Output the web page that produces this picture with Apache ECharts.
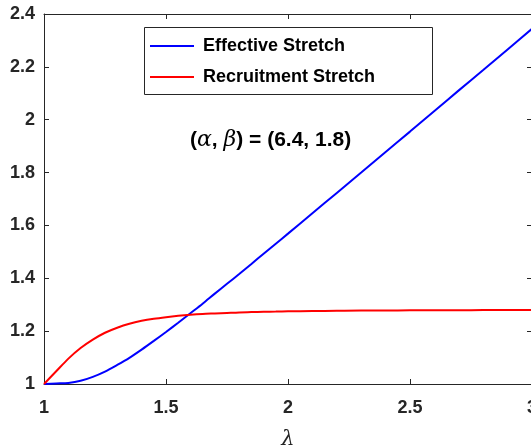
<!DOCTYPE html>
<html>
<head>
<meta charset="utf-8">
<script src="https://cdn.jsdelivr.net/npm/echarts@6/dist/echarts.min.js"></script>
<style>
  html, body { margin: 0; padding: 0; background: #ffffff; }
  #chart { width: 531px; height: 446px; }
</style>
</head>
<body>
<div id="chart"></div>
<script>
// Stretch ratio lambda (x axis)
const lambdaValues = [
  1.00, 1.05, 1.10, 1.15, 1.20, 1.25, 1.30, 1.35, 1.40, 1.45,
  1.50, 1.55, 1.60, 1.65, 1.70, 1.75, 1.80, 1.85, 1.90, 1.95,
  2.00, 2.10, 2.20, 2.30, 2.40, 2.50, 2.60, 2.70, 2.80, 2.90, 3.00
];
// Effective stretch
const effectiveStretch = [
  1.000, 1.002, 1.004, 1.012, 1.027, 1.047, 1.072, 1.099, 1.130, 1.163,
  1.197, 1.232, 1.268, 1.304, 1.342, 1.379, 1.416, 1.454, 1.493, 1.531,
  1.569, 1.646, 1.723, 1.800, 1.878, 1.955, 2.033, 2.111, 2.188, 2.266, 2.344
];
// Recruitment stretch
const recruitmentStretch = [
  1.000, 1.048, 1.096, 1.136, 1.168, 1.194, 1.213, 1.228, 1.239, 1.247,
  1.253, 1.258, 1.262, 1.265, 1.267, 1.269, 1.271, 1.272, 1.273, 1.274,
  1.275, 1.276, 1.277, 1.278, 1.278, 1.279, 1.279, 1.279, 1.280, 1.280, 1.280
];
const seriesNames = ['Effective Stretch', 'Recruitment Stretch'];
const annotation = { alpha: '6.4', beta: '1.8' };

const toPairs = ys => lambdaValues.map((x, i) => [x, ys[i]]);

const FONT = '"Liberation Sans", Arial, Helvetica, sans-serif';
const AXIS_COLOR = '#262626';

const boxAxis = (extra) => Object.assign({
  type: 'value',
  axisLine: { show: true, onZero: false, lineStyle: { color: AXIS_COLOR, width: 1 } },
  axisTick: { show: true, inside: true, length: 5, lineStyle: { color: AXIS_COLOR, width: 1 } },
  splitLine: { show: false },
  axisLabel: { show: false }
}, extra);

const labelStyle = (margin) => ({
  show: true,
  margin: margin,
  color: AXIS_COLOR,
  fontFamily: FONT,
  fontWeight: 'bold',
  fontSize: 18
});

const chart = echarts.init(document.getElementById('chart'), null, { renderer: 'canvas' });

chart.setOption({
  animation: false,
  backgroundColor: '#ffffff',
  grid: { left: 44, right: -1, top: 14, bottom: 62, containLabel: false, outerBoundsMode: 'none' },
  xAxis: [
    boxAxis({
      position: 'bottom', min: 1, max: 3, interval: 0.5,
      axisLabel: labelStyle(15),
      name: 'λ',
      nameLocation: 'middle',
      nameGap: 45,
      nameTextStyle: { fontFamily: '"DejaVu Serif", serif', fontStyle: 'italic', fontSize: 21, color: AXIS_COLOR }
    }),
    boxAxis({ position: 'top', min: 1, max: 3, interval: 0.5 })
  ],
  yAxis: [
    boxAxis({ position: 'left', min: 1, max: 2.4, interval: 0.2, axisLabel: labelStyle(9) }),
    boxAxis({ position: 'right', min: 1, max: 2.4, interval: 0.2 })
  ],
  legend: {
    orient: 'vertical',
    left: 150,
    top: 37,
    padding: 0,
    icon: 'rect',
    itemWidth: 44,
    itemHeight: 2,
    itemGap: 13,
    data: seriesNames,
    textStyle: {
      fontFamily: FONT, fontWeight: 'bold', fontSize: 18, color: '#000000',
      padding: [0, 0, 0, 4]
    }
  },
  graphic: [
    {
      type: 'rect',
      z: -1,
      shape: { x: 144.5, y: 27.5, width: 288, height: 67 },
      style: { fill: '#ffffff', stroke: AXIS_COLOR, lineWidth: 1 }
    },
    {
      type: 'text',
      x: 190,
      y: 140,
      style: {
        text: '{b|(}{g|α}{b|, }{g|β}{b|) = (' + annotation.alpha + ', ' + annotation.beta + ')}',
        verticalAlign: 'middle',
        rich: {
          b: { fontFamily: FONT, fontWeight: 'bold', fontSize: 21, fill: '#000000' },
          g: { fontFamily: '"DejaVu Serif", serif', fontStyle: 'italic', fontSize: 22, fill: '#000000' }
        }
      }
    }
  ],
  series: [
    {
      name: seriesNames[0],
      type: 'line',
      xAxisIndex: 0, yAxisIndex: 0,
      symbol: 'none',
      smooth: 0.3,
      data: toPairs(effectiveStretch),
      lineStyle: { color: '#0000ff', width: 2 },
      itemStyle: { color: '#0000ff' }
    },
    {
      name: seriesNames[1],
      type: 'line',
      xAxisIndex: 0, yAxisIndex: 0,
      symbol: 'none',
      smooth: 0.3,
      data: toPairs(recruitmentStretch),
      lineStyle: { color: '#ff0000', width: 2 },
      itemStyle: { color: '#ff0000' }
    }
  ]
});
</script>
</body>
</html>
